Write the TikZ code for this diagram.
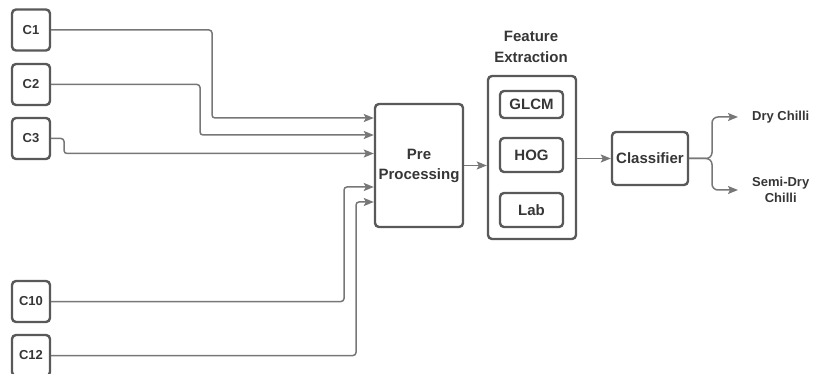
\documentclass[tikz,border=0pt]{standalone}
\usepackage{fontspec}
\setmainfont{Liberation Sans}
\usetikzlibrary{arrows.meta}
\definecolor{boxline}{HTML}{595959}
\definecolor{wire}{HTML}{777777}
\definecolor{ink}{HTML}{363636}
\tikzset{
  camera/.style={draw=boxline, line width=2.4pt, rounded corners=4pt, minimum width=38pt,
    minimum height=41pt, inner sep=0pt, text=ink, font=\bfseries\fontsize{13}{16}\selectfont},
  block/.style={draw=boxline, line width=2.4pt, rounded corners=4pt, inner sep=0pt,
    text=ink, align=center, font=\bfseries\fontsize{15}{20}\selectfont},
  label/.style={text=ink, inner sep=0pt, align=center},
  wireline/.style={draw=wire, line width=1.5pt, rounded corners=3pt},
  arrowline/.style={wireline, -{Stealth[length=10pt,width=8pt,inset=2pt]}},
}
\begin{document}
\begin{tikzpicture}[x=1pt,y=-1pt]
\useasboundingbox (0,0) rectangle (814,374);

% input cameras
\node[camera] (c1)  at (31,30)    {C1};
\node[camera] (c2)  at (31,84.5)  {C2};
\node[camera] (c3)  at (31,138.5) {C3};
\node[camera] (c10) at (31,301.5) {C10};
\node[camera] (c12) at (31,355.5) {C12};

% processing stages
\node[block, minimum width=88pt, minimum height=123pt] (pre) at (419,165.5) {Pre\\Processing};
\node[block, minimum width=88pt, minimum height=163pt] (fe) at (532,157.5) {};
\node[label, font=\bfseries\fontsize{15}{21}\selectfont] (fetitle) at (531,47) {Feature\\Extraction};
\node[block, minimum width=63pt, minimum height=27pt] (glcm) at (531.5,104.5) {GLCM};
\node[block, minimum width=63pt, minimum height=34pt] (hog) at (531.5,155) {HOG};
\node[block, minimum width=63pt, minimum height=34pt] (lab) at (531.5,210) {Lab};
\node[block, minimum width=76pt, minimum height=53pt] (cls) at (650,158.5) {Classifier};

% outputs
\node[label, anchor=west, font=\bfseries\fontsize{13}{16}\selectfont] (dry) at (752,117) {Dry Chilli};
\node[label, anchor=west, font=\bfseries\fontsize{13}{16}\selectfont] (semi) at (752,189.5) {Semi-Dry\\Chilli};

% camera feeds into pre-processing
\draw[arrowline] (c1.east) -| (212,118) -- ([yshift=47.5pt]pre.west);
\draw[arrowline] (c2.east) -| (200,135) -- ([yshift=30.5pt]pre.west);
\draw[arrowline] (c3.east) -| (64,153.5) -- ([yshift=12pt]pre.west);
\draw[arrowline] (c10.east) -| (344,187) -- ([yshift=-21.5pt]pre.west);
\draw[arrowline] (c12.east) -| (356,202) -- ([yshift=-36.5pt]pre.west);

% pipeline
\draw[arrowline] (pre.east) -- (fe.west |- pre.east);
\draw[arrowline] (fe.east |- cls.west) -- (cls.west);

% classifier outputs
\draw[arrowline, rounded corners=6pt] (cls.east) -| (712,117) -- ([xshift=-14pt]dry.west);
\draw[arrowline, rounded corners=6pt] (cls.east) -| (712,190) -- ([xshift=-14pt]semi.west |- 0,190);
\end{tikzpicture}
\end{document}
